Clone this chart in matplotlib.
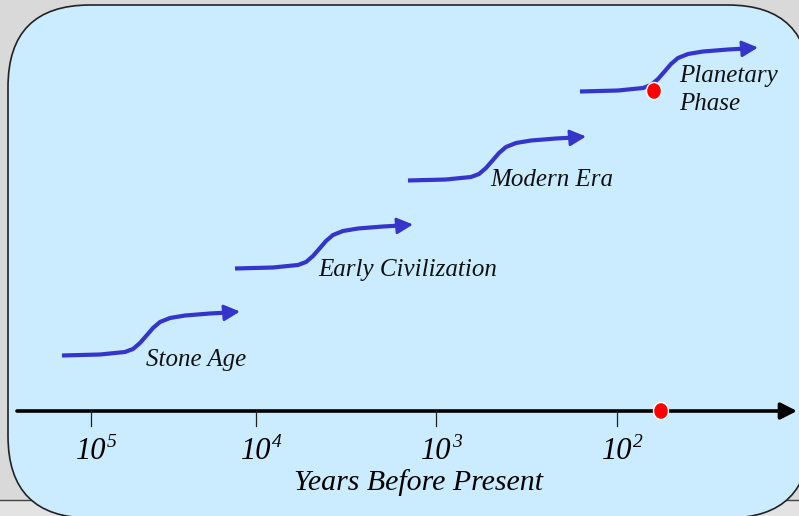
#!/usr/bin/env python
import numpy as np
import matplotlib
matplotlib.use('Agg')
from matplotlib import pyplot as plt
from matplotlib.patches import FancyBboxPatch, Rectangle, Ellipse

plt.rcParams['font.family'] = ['Liberation Serif', 'DejaVu Serif']

# eras: name, where the curve starts (pixel space of the slide), label anchor
era_names = ['Stone Age', 'Early Civilization', 'Modern Era', 'Planetary\nPhase']
era_start_x = [62, 235, 408, 580]
era_start_y = [355.5, 268.5, 180.5, 91.5]
label_x = [146, 318, 490, 679]
label_y = [360, 270, 180, 90]

# one S-shaped transition, offsets from the start of each curve
curve_dx = [0, 38, 63, 71, 78, 85, 91, 98, 108, 123, 148, 166, 178]
curve_dy = [0, -1, -3.5, -6.5, -12.5, -20.5, -27.5, -33.5, -37.5, -40, -42, -43, -44]

# timeline
tick_base = ['10', '10', '10', '10']
tick_exp = ['5', '4', '3', '2']
tick_x = [91, 256, 436, 617]
axis_y = 411
now_x = 661
planetary_dot = (654, 91)

blue = '#3535cc'

fig = plt.figure(figsize=(7.99, 5.16), dpi=100)
fig.patch.set_facecolor('#d9d9d9')
ax = fig.add_axes([0, 0, 1, 1])
ax.set_xlim(0, 799)
ax.set_ylim(516, 0)
ax.axis('off')

# slide background bits
ax.add_patch(Rectangle((0, 500), 799, 20, facecolor='#e3e3e3', edgecolor='none', zorder=0))
ax.plot([0, 799], [500, 500], color='#444444', lw=1.0, zorder=0.5)
ax.add_patch(FancyBboxPatch((8, 5), 802, 513,
                            boxstyle='round,pad=0,rounding_size=82',
                            facecolor='#cbecfe', edgecolor='#222222', lw=1.2, zorder=1))

# era curves
for name, sx, sy, lx, ly in zip(era_names, era_start_x, era_start_y, label_x, label_y):
    xs = sx + np.array(curve_dx)
    ys = sy + np.array(curve_dy)
    ax.plot(xs[:-1], ys[:-1], color=blue, lw=3.0, solid_capstyle='butt',
            solid_joinstyle='round', zorder=3)
    ax.annotate('', xy=(xs[-1], ys[-1]), xytext=(xs[-2], ys[-2]),
                arrowprops=dict(arrowstyle='-|>,head_length=0.75,head_width=0.38',
                                color=blue, lw=2.0,
                                mutation_scale=13, shrinkA=0, shrinkB=0),
                zorder=3)
    ax.text(lx, ly, name, fontsize=18, style='italic', ha='left', va='center',
            linespacing=1.4, zorder=4, color='#111111')

# time axis
ax.annotate('', xy=(797, axis_y), xytext=(17, axis_y),
            arrowprops=dict(arrowstyle='-|>,head_length=0.75,head_width=0.38',
                            color='black', lw=2.6,
                            mutation_scale=13, shrinkA=0, shrinkB=0), zorder=3)
for tx, tb, te in zip(tick_x, tick_base, tick_exp):
    ax.plot([tx, tx], [axis_y, axis_y + 15], color='#222222', lw=0.9, zorder=3)
    ax.text(tx + 15, 459, tb, fontsize=22, style='italic', ha='right',
            va='baseline', zorder=4)
    ax.text(tx + 16, 447, te, fontsize=14, style='italic', ha='left',
            va='baseline', zorder=4)
ax.text(418, 483, 'Years Before Present', fontsize=21.5, style='italic',
        ha='center', va='center', zorder=4)

# red "now" markers
for cx, cy in [(now_x, axis_y), planetary_dot]:
    ax.add_patch(Ellipse((cx, cy), 15, 17, facecolor='#ff0000', edgecolor='white',
                         lw=1.0, zorder=5))

fig.savefig('out.png', dpi=100, facecolor=fig.get_facecolor())
plt.close(fig)
